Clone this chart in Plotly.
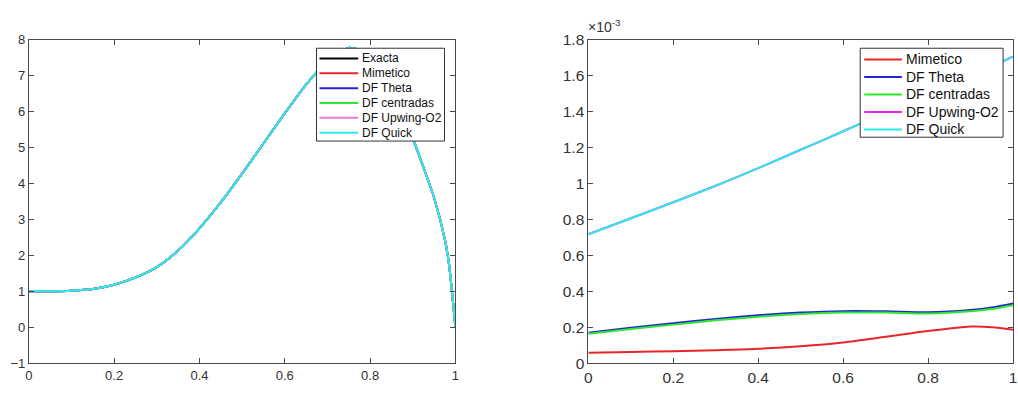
import plotly.graph_objects as go

# ---------------- data ----------------
# Left panel: solutions (all methods overlap the exact solution)
x_sol = [0, 0.05, 0.1, 0.15, 0.2, 0.25, 0.3, 0.35, 0.4, 0.45, 0.5, 0.55, 0.6,
         0.65, 0.7, 0.75, 0.8, 0.85, 0.9, 0.925, 0.95, 0.975, 0.985, 1.0]
u_exacta = [1.0, 1.0, 1.015, 1.06, 1.18, 1.38, 1.67, 2.13, 2.75, 3.47, 4.27, 5.11,
            5.95, 6.75, 7.40, 7.77, 7.58, 6.75, 5.25, 4.45, 3.60, 2.45, 1.75, 0.0]
sol_names = ["Exacta", "Mimetico", "DF Theta", "DF centradas", "DF Upwing-O2", "DF Quick"]

# Right panel: errors (in units of 1e-3)
x_err = [0, 0.1, 0.2, 0.3, 0.4, 0.5, 0.6, 0.7, 0.8, 0.9, 0.95, 1.0]
err_mimetico = [0.058, 0.062, 0.066, 0.072, 0.080, 0.094, 0.115, 0.146, 0.178, 0.203, 0.200, 0.186]
err_theta = [0.169, 0.196, 0.222, 0.246, 0.266, 0.281, 0.289, 0.288, 0.283, 0.296, 0.310, 0.332]
err_centradas = [0.163, 0.189, 0.214, 0.238, 0.258, 0.273, 0.281, 0.281, 0.276, 0.288, 0.301, 0.322]
err_upwing = [0.717, 0.806, 0.895, 0.987, 1.085, 1.187, 1.290, 1.395, 1.497, 1.600, 1.652, 1.705]
err_quick = [0.717, 0.806, 0.895, 0.987, 1.085, 1.187, 1.290, 1.395, 1.497, 1.600, 1.652, 1.705]
err_names = ["Mimetico", "DF Theta", "DF centradas", "DF Upwing-O2", "DF Quick"]

x_ticks = [0, 0.2, 0.4, 0.6, 0.8, 1]
x_labels = ["0", "0.2", "0.4", "0.6", "0.8", "1"]
y1_ticks = [-1, 0, 1, 2, 3, 4, 5, 6, 7, 8]
y2_ticks = [0, 0.2, 0.4, 0.6, 0.8, 1.0, 1.2, 1.4, 1.6, 1.8]
y2_labels = ["0", "0.2", "0.4", "0.6", "0.8", "1", "1.2", "1.4", "1.6", "1.8"]

# ---------------- styling ----------------
sol_colors = ["#000000", "#e8262a", "#2323d6", "#2ee82e", "#e07ee0", "#2ee8ee"]
err_colors = ["#e8262a", "#2323d6", "#2ee82e", "#ee22ee", "#2ee8ee"]
W, H = 1018, 395
FONT = "Liberation Sans, Arial, sans-serif"

fig = go.Figure()
for name, col in zip(sol_names, sol_colors):
    fig.add_trace(go.Scatter(x=x_sol, y=u_exacta, name=name, mode="lines",
                             line=dict(color=col, width=2, shape="spline", smoothing=0.6),
                             xaxis="x", yaxis="y", showlegend=False))

for name, ys, col in zip(err_names,
                         [err_mimetico, err_theta, err_centradas, err_upwing, err_quick],
                         err_colors):
    fig.add_trace(go.Scatter(x=x_err, y=ys, name=name, mode="lines",
                             line=dict(color=col, width=2, shape="spline", smoothing=0.8),
                             xaxis="x2", yaxis="y2", showlegend=False))

axcol = "#4a4a4a"
tickfont_l = dict(family=FONT, size=13, color="#333333")
tickfont_r = dict(family=FONT, size=15.5, color="#333333")
common = dict(showgrid=False, zeroline=False, showline=True, linecolor=axcol, linewidth=1,
              mirror="ticks", ticks="inside", ticklen=5, tickcolor=axcol)

ybot = 1 - 370 / H
ytop = 1 - 32 / H

shapes = []
annotations = []


def px(x):
    return x / W


def py(y):
    return 1 - y / H


def manual_legend(box, rows_y, line_x0, line_x1, text_x, names, colors, fsize):
    x0, y0, x1, y1 = box
    shapes.append(dict(type="rect", xref="paper", yref="paper",
                       x0=px(x0), x1=px(x1), y0=py(y1), y1=py(y0),
                       line=dict(color="#333333", width=1), fillcolor="white", layer="above"))
    for yy, nm, col in zip(rows_y, names, colors):
        shapes.append(dict(type="line", xref="paper", yref="paper",
                           x0=px(line_x0), x1=px(line_x1), y0=py(yy), y1=py(yy),
                           line=dict(color=col, width=2), layer="above"))
        annotations.append(dict(text=nm, xref="paper", yref="paper", x=px(text_x), y=py(yy),
                                xanchor="left", yanchor="middle", showarrow=False,
                                font=dict(family=FONT, size=fsize, color="#111111")))


manual_legend((315, 41, 444, 138), [51.7, 67.2, 82.7, 98.2, 113.7, 129.2],
              318, 357, 359, sol_names, sol_colors, 12)
manual_legend((863, 41, 1007, 134), [52.7, 71.0, 89.3, 107.6, 125.9],
              867, 905, 907, err_names, err_colors, 14)

annotations.append(dict(text="×10<sup>-3</sup>", xref="paper", yref="paper",
                        x=px(587), y=py(29), xanchor="left", yanchor="bottom",
                        showarrow=False, font=dict(family=FONT, size=14, color="#333333")))

fig.update_layout(
    width=W, height=H,
    margin=dict(l=0, r=0, t=0, b=0),
    paper_bgcolor="white", plot_bgcolor="white",
    showlegend=False,
    xaxis=dict(domain=[25 / W, 455 / W], range=[0, 1], tickvals=x_ticks, ticktext=x_labels,
               tickfont=tickfont_l, anchor="y", **common),
    yaxis=dict(domain=[ybot, ytop], range=[-1, 8], tickvals=y1_ticks, tickfont=tickfont_l,
               anchor="x", **common),
    xaxis2=dict(domain=[589 / W, 1017 / W], range=[0, 1], tickvals=x_ticks, ticktext=x_labels,
                tickfont=tickfont_r, anchor="y2", **common),
    yaxis2=dict(domain=[ybot, ytop], range=[0, 1.8], tickvals=y2_ticks, ticktext=y2_labels,
                tickfont=tickfont_r, anchor="x2", **common),
    shapes=shapes,
    annotations=annotations,
)

fig.write_html("out.html")
